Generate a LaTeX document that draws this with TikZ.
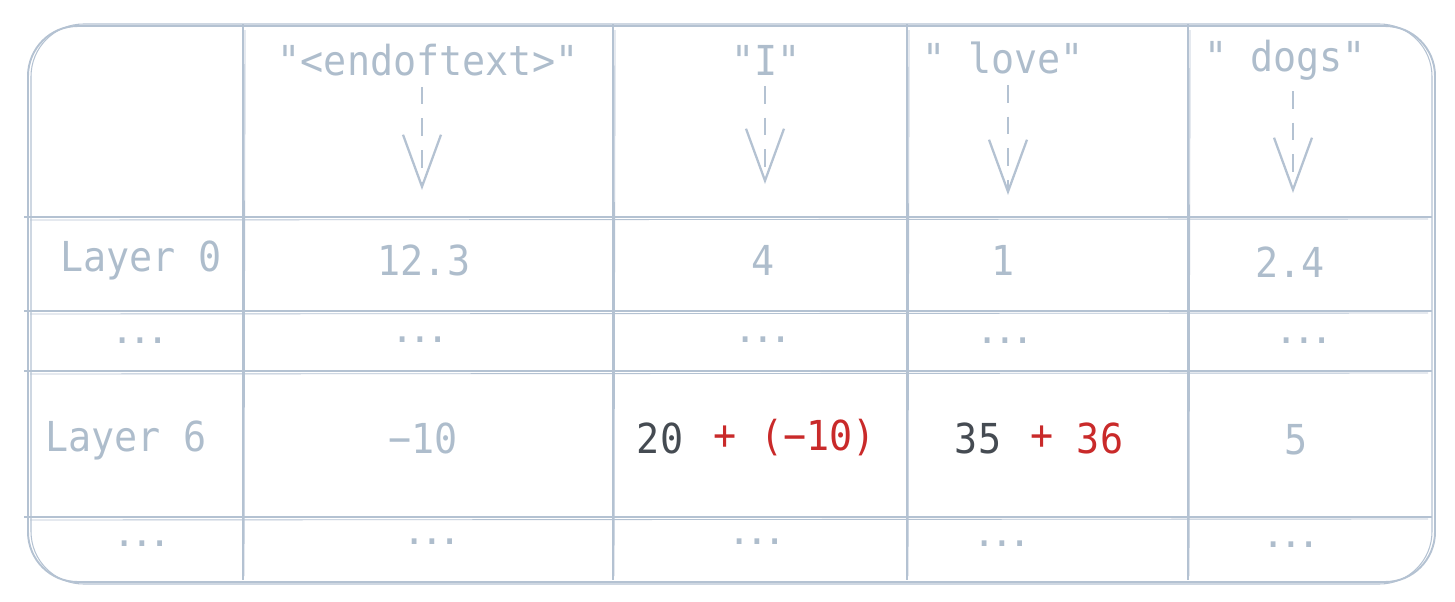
\documentclass[tikz,border=0pt]{standalone}
\usepackage{fontspec}
\setmonofont[FakeStretch=0.93]{DejaVu Sans Mono}
\usetikzlibrary{arrows.meta}
\definecolor{gridc}{HTML}{B4C2D2}
\definecolor{txtc}{HTML}{AEBDCC}
\definecolor{darkc}{HTML}{454B52}
\definecolor{redc}{HTML}{C92A2A}

\begin{document}
\begin{tikzpicture}[x=0.02cm,y=-0.02cm,
  cell/.style={txtc,inner sep=2pt,font=\ttfamily\fontsize{23.5}{28}\selectfont},
  dots/.style={txtc,font=\ttfamily\bfseries\fontsize{18}{20}\selectfont},
  tok/.style={gridc,line width=1.3pt,dash pattern=on 10pt off 8pt,-{Straight Barb[length=1.04cm,width=0.76cm]}}]
  \useasboundingbox (0,0) rectangle (1455,602);
  % outer box, drawn twice for the sketchy look
  \draw[gridc,line width=1.1pt,rounded corners=1cm] (28,26) rectangle (1435,582);
  \draw[gridc,line width=0.6pt,rounded corners=1.05cm] (31,24) rectangle (1432,584);
  % rows
  \foreach \y in {217,311,371,517}{
    \draw[gridc,line width=1.1pt] (24,\y) -- (1432,\y);
    \draw[gridc,line width=0.5pt] (30,\y+3) -- (1428,\y+2);
  }
  % columns
  \foreach \x in {243,613,907,1188}{
    \draw[gridc,line width=1.1pt] (\x,24) -- (\x,580);
    \draw[gridc,line width=0.5pt] (\x+2,30) -- (\x+1,576);
  }
  % tokens
  \node[cell] (hEot) at (428,60) {"<endoftext>"};
  \node[cell] (hI) at (766,60) {"I"};
  \node[cell] (hLove) at (1003,58) {" love"};
  \node[cell] (hDogs) at (1285,60) {" dogs"};
  \coordinate (aEot) at (422,190);
  \coordinate (aI) at (765,184);
  \coordinate (aLove) at (1008,195);
  \coordinate (aDogs) at (1293,193);
  \draw[tok] ([yshift=-4pt]hEot.south -| aEot) -- (aEot);
  \draw[tok] ([yshift=-4pt]hI.south -| aI) -- (aI);
  \draw[tok] ([yshift=-4pt]hLove.south -| aLove) -- (aLove);
  \draw[tok] ([yshift=-4pt]hDogs.south -| aDogs) -- (aDogs);
  % layer 0
  \node[cell] (l0) at (141,260) {Layer 0};
  \node[cell] (l0Eot) at (424,260) {12.3};
  \node[cell] (l0I) at (763,260) {4};
  \node[cell] (l0Love) at (1003,260) {1};
  \node[cell] (l0Dogs) at (1290,262) {2.4};
  % dots
  \node[dots] (d1) at (140,341) {...};
  \node[dots] (d1Eot) at (420,340) {...};
  \node[dots] (d1I) at (763,340) {...};
  \node[dots] (d1Love) at (1005,341) {...};
  \node[dots] (d1Dogs) at (1304,341) {...};
  % layer 6
  \node[cell] (l6) at (126,440) {Layer 6};
  \node[cell] (l6Eot) at (423,438) {−10};
  \node[cell,darkc] (l6I) at (660,438) {20};
  \node[cell,redc] (l6Iplus) at (725,438) {+};
  \node[cell,redc] (l6Iadd) at (818,438) {(−10)};
  \node[cell,darkc] (l6Love) at (978,438) {35};
  \node[cell,redc] (l6Loveplus) at (1042,438) {+};
  \node[cell,redc] (l6Loveadd) at (1100,438) {36};
  \node[cell] (l6Dogs) at (1296,440) {5};
  % dots
  \node[dots] (d2) at (142,544) {...};
  \node[dots] (d2Eot) at (432,542) {...};
  \node[dots] (d2I) at (757,542) {...};
  \node[dots] (d2Love) at (1002,544) {...};
  \node[dots] (d2Dogs) at (1291,545) {...};
\end{tikzpicture}
\end{document}
